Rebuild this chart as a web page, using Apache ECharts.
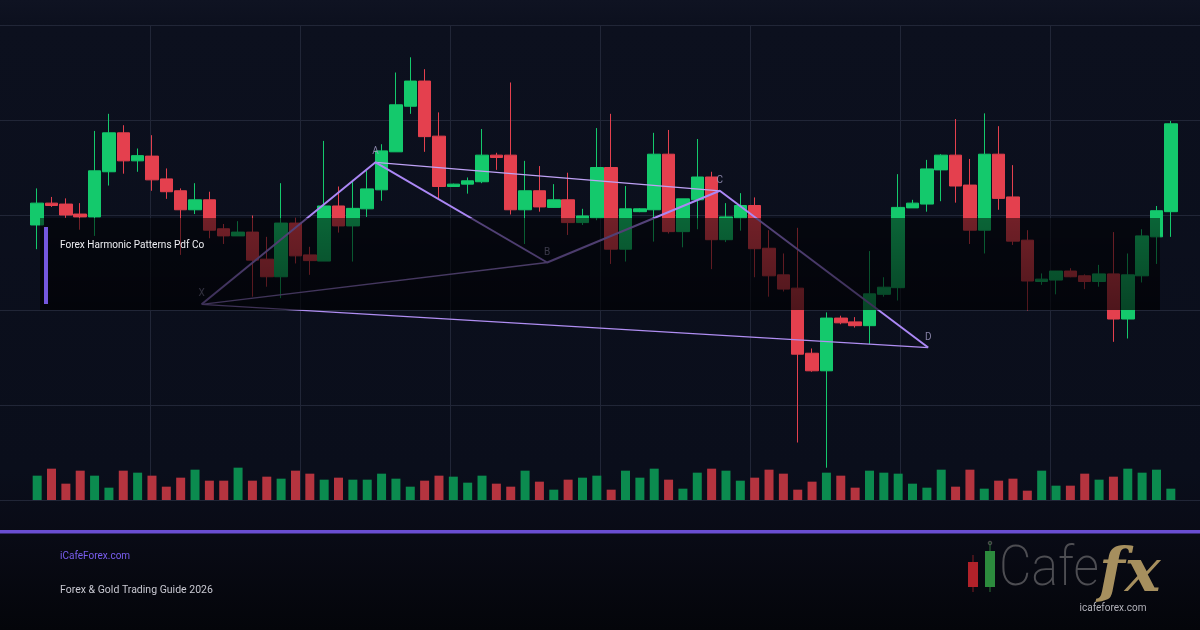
<!DOCTYPE html>
<html>
<head>
<meta charset="utf-8">
<script src="https://cdn.jsdelivr.net/npm/echarts@6/dist/echarts.min.js"></script>
<style>
  html, body { margin: 0; padding: 0; background: #0a0d19; }
  #chart {
    width: 1200px; height: 630px;
    background: linear-gradient(to bottom, #0f1322 0px, #0c101e 25px, #0a0e1b 470px, #090b16 535px, #04050a 630px);
  }
</style>
</head>
<body>
<div id="chart"></div>
<script>
// candles (arbitrary price units, 0..100)
var opens = [57.9, 62.5, 62.3, 60.2, 59.6, 69.1, 77.3, 71.4, 72.4, 67.6,
  65.1, 61.1, 63.2, 57.1, 55.6, 56.4, 50.7, 47.0, 58.3, 51.6,
  50.3, 61.9, 57.7, 61.3, 65.3, 73.3, 82.9, 88.2, 76.6, 66.0,
  66.5, 67.0, 72.6, 72.6, 61.1, 65.1, 61.6, 63.2, 58.4, 59.4,
  70.0, 52.8, 60.7, 61.1, 72.8, 56.5, 63.2, 68.0, 54.8, 59.4,
  62.0, 53.0, 47.4, 44.6, 30.9, 27.2, 38.3, 37.5, 36.7, 43.3,
  44.7, 61.5, 62.3, 69.5, 72.6, 66.3, 56.8, 72.8, 63.8, 54.7,
  46.0, 46.3, 48.2, 47.2, 46.0, 47.6, 38.1, 47.2, 55.4, 60.7];
var closes = [62.5, 62.0, 60.0, 59.6, 69.3, 77.3, 71.4, 72.5, 67.4, 64.9,
  61.1, 63.2, 56.8, 55.6, 56.4, 50.5, 47.0, 58.3, 51.4, 50.4,
  61.9, 57.7, 61.4, 65.5, 73.5, 83.2, 88.2, 76.5, 66.0, 66.5,
  67.2, 72.6, 72.1, 61.1, 65.1, 61.7, 63.2, 58.4, 59.8, 70.0,
  52.8, 61.3, 61.3, 72.8, 56.5, 63.4, 68.0, 54.8, 59.6, 62.0,
  52.9, 47.2, 44.4, 30.7, 27.2, 38.3, 37.3, 36.7, 43.4, 44.8,
  61.6, 62.5, 69.7, 72.6, 66.1, 56.8, 72.8, 63.5, 54.5, 46.1,
  46.5, 48.2, 47.0, 46.0, 47.6, 38.1, 47.4, 55.6, 60.9, 79.2];
var lows = [52.8, 61.7, 59.4, 56.9, 55.6, 66.2, 68.7, 69.1, 65.1, 63.4,
  51.6, 60.2, 55.1, 53.9, 55.6, 42.8, 44.9, 42.5, 49.8, 47.4,
  50.3, 56.3, 50.2, 59.6, 63.0, 73.3, 81.3, 73.3, 63.5, 65.9,
  64.5, 66.7, 69.5, 60.1, 53.9, 60.7, 61.5, 55.8, 57.9, 58.9,
  49.7, 50.2, 60.6, 54.4, 56.1, 53.2, 57.0, 48.6, 54.3, 56.7,
  46.9, 42.8, 43.9, 12.1, 27.0, 6.8, 37.0, 36.3, 32.8, 42.8,
  42.0, 61.5, 60.7, 62.9, 62.6, 53.9, 51.9, 61.1, 53.7, 39.9,
  45.3, 43.3, 46.9, 44.4, 44.9, 33.3, 34.0, 45.8, 49.7, 55.4];
var highs = [65.6, 63.8, 63.5, 62.5, 77.7, 81.3, 78.9, 74.0, 76.8, 69.8,
  65.6, 66.7, 64.9, 58.1, 58.7, 59.9, 55.4, 66.7, 59.4, 53.3,
  75.6, 66.0, 67.4, 69.3, 74.9, 90.0, 93.2, 90.7, 81.6, 66.6,
  67.9, 78.1, 73.1, 87.9, 71.4, 70.3, 66.5, 68.9, 61.3, 78.3,
  81.3, 66.1, 61.4, 77.3, 77.9, 63.4, 76.0, 69.1, 62.5, 64.6,
  63.7, 56.8, 51.9, 57.3, 31.9, 39.5, 38.8, 38.5, 52.4, 46.9,
  68.6, 63.2, 71.6, 72.8, 80.2, 71.8, 81.4, 78.7, 70.5, 56.8,
  47.7, 48.2, 48.8, 47.5, 49.5, 56.4, 51.9, 57.0, 61.9, 79.8];
var volumes = [73, 94, 49, 88, 73, 37, 88, 82, 73, 40,
  67, 91, 58, 58, 97, 58, 70, 64, 88, 79,
  61, 67, 61, 61, 79, 64, 40, 58, 73, 70,
  52, 73, 49, 40, 88, 55, 31, 61, 67, 73,
  31, 88, 67, 94, 61, 34, 82, 94, 88, 58,
  67, 91, 79, 31, 55, 82, 73, 37, 88, 82,
  79, 49, 37, 91, 40, 91, 34, 58, 64, 28,
  88, 43, 43, 79, 61, 70, 94, 82, 91, 34];
var days = opens.map(function (_, i) { return 'D' + (i + 1); });

// harmonic pattern points: candle position (fractional index) and price
var patternNames = ['X', 'A', 'B', 'C', 'D'];
var patternIdx = [11.46, 23.58, 35.54, 47.57, 62.09];
var patternVals = [41.2, 71.1, 50.0, 65.1, 32.1];

var UP = '#14c96c', DOWN = '#e4404e';
var VOL_UP = '#0b8b4f', VOL_DOWN = '#b5343f';

function pt(k) { return [patternIdx[k], patternVals[k]]; }

var candleData = opens.map(function (o, i) { return [o, closes[i], lows[i], highs[i]]; });

var chart = echarts.init(document.getElementById('chart'), null, { renderer: 'canvas' });
var hidden = { show: false };

chart.setOption({
  backgroundColor: 'transparent',
  animation: false,
  grid: [
    { left: 30, right: 22, top: 25, bottom: 130 },
    { left: 30, right: 22, top: 440, bottom: 130 },
    { left: 0, right: 0, top: 25, bottom: 130 }
  ],
  xAxis: [
    { type: 'category', gridIndex: 0, data: days, boundaryGap: true,
      axisLine: hidden, axisTick: hidden, axisLabel: hidden, splitLine: hidden },
    { type: 'value', gridIndex: 0, min: -0.5, max: 79.5,
      axisLine: hidden, axisTick: hidden, axisLabel: hidden, splitLine: hidden },
    { type: 'category', gridIndex: 1, data: days, boundaryGap: true,
      axisLine: hidden, axisTick: hidden, axisLabel: hidden, splitLine: hidden },
    { type: 'value', gridIndex: 2, min: 0, max: 1200, interval: 150,
      axisLine: hidden, axisTick: hidden, axisLabel: hidden,
      splitLine: { show: true, showMinLine: false, showMaxLine: false,
        lineStyle: { color: '#212637', width: 1 } } }
  ],
  yAxis: [
    { type: 'value', gridIndex: 0, min: 0, max: 100,
      axisLine: hidden, axisTick: hidden, axisLabel: hidden, splitLine: hidden },
    { type: 'value', gridIndex: 1, min: 0, max: 180,
      axisLine: hidden, axisTick: hidden, axisLabel: hidden, splitLine: hidden },
    { type: 'value', gridIndex: 2, min: 0, max: 5, interval: 1,
      axisLine: hidden, axisTick: hidden, axisLabel: hidden,
      splitLine: { show: true, lineStyle: { color: '#212637', width: 1 } } }
  ],
  series: [
    {
      type: 'candlestick', xAxisIndex: 0, yAxisIndex: 0,
      barWidth: 13,
      data: candleData,
      itemStyle: { color: UP, color0: DOWN, borderColor: UP, borderColor0: DOWN, borderWidth: 1 }
    },
    {
      type: 'bar', xAxisIndex: 2, yAxisIndex: 1,
      barWidth: 9,
      data: volumes,
      itemStyle: {
        color: function (p) { return closes[p.dataIndex] >= opens[p.dataIndex] ? VOL_UP : VOL_DOWN; }
      }
    },
    {
      // thin legs B-X and X-D
      type: 'line', xAxisIndex: 1, yAxisIndex: 0, z: 4,
      showSymbol: false, symbol: 'none',
      data: [pt(2), pt(0), pt(4)],
      lineStyle: { color: '#b08ef2', width: 1.3 }
    },
    {
      type: 'line', xAxisIndex: 1, yAxisIndex: 0, z: 4,
      showSymbol: false, symbol: 'none',
      data: [pt(1), pt(3)],
      lineStyle: { color: '#bfa2f6', width: 1.3 }
    },
    {
      // main XABCD path
      type: 'line', xAxisIndex: 1, yAxisIndex: 0, z: 5,
      showSymbol: false, symbol: 'none',
      data: patternIdx.map(function (x, k) { return pt(k); }),
      lineStyle: { color: '#ab87f5', width: 2 }
    },
    {
      type: 'scatter', xAxisIndex: 1, yAxisIndex: 0, z: 6,
      symbolSize: 1,
      itemStyle: { color: 'rgba(0,0,0,0)' },
      data: patternIdx.map(function (x, k) { return pt(k); }),
      label: {
        show: true, position: 'top', distance: 5,
        formatter: function (p) { return patternNames[p.dataIndex]; },
        color: '#a49ec6', fontSize: 10, fontFamily: 'Roboto'
      }
    }
  ],
  graphic: [
    {
      type: 'rect', z: 100, silent: true,
      shape: { x: 40, y: 218, width: 1120, height: 92 },
      style: {
        fill: new echarts.graphic.LinearGradient(0, 0, 0, 1, [
          { offset: 0, color: 'rgba(0,0,2,0.5)' },
          { offset: 1, color: 'rgba(0,0,2,0.66)' }
        ])
      }
    },
    {
      type: 'rect', z: 101, silent: true,
      shape: { x: 44, y: 227, width: 4, height: 77 },
      style: { fill: '#7457de' }
    },
    {
      type: 'text', z: 101, silent: true, x: 60, y: 245, scaleX: 0.875,
      style: { text: 'Forex Harmonic Patterns Pdf Co', fill: '#eeeef3',
        font: '11.5px Roboto', verticalAlign: 'middle' }
    },
    {
      type: 'rect', z: 101, silent: true,
      shape: { x: 0, y: 530, width: 1200, height: 3.5 },
      style: { fill: '#6a4ed2' }
    },
    {
      type: 'text', z: 101, silent: true, x: 60, y: 556, scaleX: 0.91,
      style: { text: 'iCafeForex.com', fill: '#7a5ef0', font: '11px Roboto', verticalAlign: 'middle' }
    },
    {
      type: 'text', z: 101, silent: true, x: 60, y: 590, scaleX: 0.955,
      style: { text: 'Forex & Gold Trading Guide 2026', fill: '#c9c9d2', font: '11px Roboto', verticalAlign: 'middle' }
    },
    // logo
    { type: 'rect', z: 101, silent: true, shape: { x: 972.5, y: 555, width: 1, height: 37 }, style: { fill: '#7e1c22' } },
    { type: 'rect', z: 101, silent: true, shape: { x: 968, y: 562, width: 10, height: 25 }, style: { fill: '#b1222a' } },
    { type: 'rect', z: 101, silent: true, shape: { x: 989.5, y: 542, width: 1, height: 50 }, style: { fill: '#2b6d36' } },
    { type: 'rect', z: 101, silent: true, shape: { x: 985, y: 551, width: 10, height: 36 }, style: { fill: '#2c8b3d' } },
    { type: 'circle', z: 101, silent: true, shape: { cx: 990, cy: 543, r: 1.8 }, style: { fill: 'none', stroke: '#555', lineWidth: 1 } },
    {
      type: 'text', z: 101, silent: true, x: 999, y: 571, scaleY: 1.12,
      style: { text: 'Cafe', fill: '#4d4d52', font: '200 50px Roboto', verticalAlign: 'middle' }
    },
    {
      type: 'text', z: 101, silent: true, x: 1099, y: 575,
      style: { text: 'fx', fill: '#a68f5e', font: 'italic bold 60px "DejaVu Serif"', verticalAlign: 'middle' }
    },
    {
      type: 'text', z: 101, silent: true, x: 1113, y: 608,
      style: { text: 'icafeforex.com', fill: '#b3b3bb', font: '10px Roboto', align: 'center', verticalAlign: 'middle' }
    }
  ]
});
</script>
</body>
</html>
